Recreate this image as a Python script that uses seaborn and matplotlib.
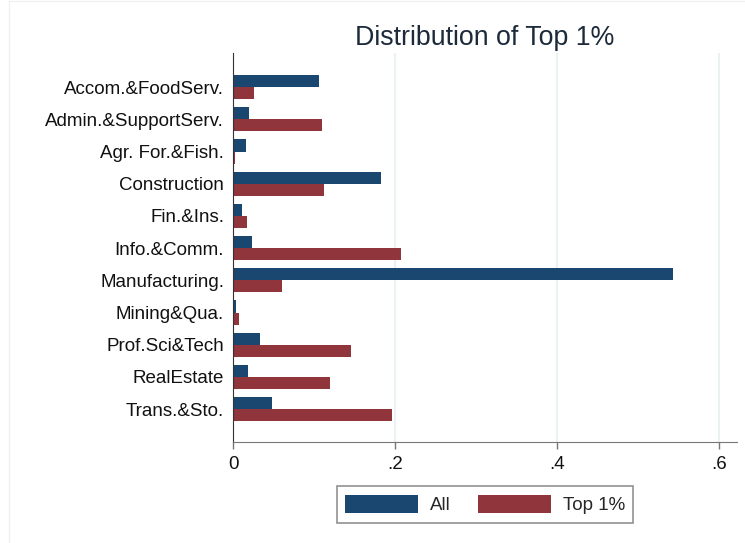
import pandas as pd
import seaborn as sns
import matplotlib.pyplot as plt

# data
industries = ["Accom.&FoodServ.", "Admin.&SupportServ.", "Agr. For.&Fish.",
              "Construction", "Fin.&Ins.", "Info.&Comm.", "Manufacturing.",
              "Mining&Qua.", "Prof.Sci&Tech", "RealEstate", "Trans.&Sto."]
share_all = [0.106, 0.020, 0.016, 0.182, 0.0115, 0.024, 0.543,
             0.004, 0.033, 0.018, 0.0485]
share_top1 = [0.026, 0.110, 0.003, 0.112, 0.017, 0.207, 0.060,
              0.007, 0.146, 0.120, 0.196]
groups = ["All", "Top 1%"]
xticks = [0, 0.2, 0.4, 0.6]
xtick_labels = ["0", ".2", ".4", ".6"]

df = pd.DataFrame({
    "industry": industries * 2,
    "share": share_all + share_top1,
    "group": [groups[0]] * len(industries) + [groups[1]] * len(industries),
})

sns.set_style("white")
plt.rcParams["font.family"] = ["Liberation Sans", "DejaVu Sans"]

fig = plt.figure(figsize=(7.45, 5.43), dpi=100)
ax = fig.add_axes([0.3128, 0.186, 0.6765, 0.7164])

sns.barplot(data=df, y="industry", x="share", hue="group", hue_order=groups,
            order=industries, palette=["#1a476f", "#90353b"], width=0.75,
            gap=0, linewidth=0, saturation=1, ax=ax, legend=True)

ax.set_xlim(0, 0.622)
ax.set_ylim(len(industries) - 1 + 1.02, -1.06)
ax.set_xticks(xticks)
ax.set_xticklabels(xtick_labels)
for x in xticks[1:]:
    ax.axvline(x, color="#eaf2f3", lw=1.5, zorder=0)

ax.set_xlabel("")
ax.set_ylabel("")
ax.set_title("Distribution of Top 1%", fontsize=19.3, color="#1c2a3a", pad=6)

for side in ["top", "right"]:
    ax.spines[side].set_visible(False)
ax.spines["left"].set_color("#333333")
ax.spines["bottom"].set_color("#777777")
ax.tick_params(axis="y", length=0, pad=6.5, labelsize=13.5, labelcolor="#111111")
ax.tick_params(axis="x", length=5, width=1, color="#777777", pad=5,
               labelsize=13.5, labelcolor="#111111", bottom=True)

leg = ax.legend(loc="upper center", bbox_to_anchor=(0.5, -0.09), ncol=2,
                frameon=True, fancybox=False, fontsize=13.5, handlelength=3.9,
                handleheight=1.1, handletextpad=0.6, columnspacing=1.5,
                borderpad=0.45)
leg.get_frame().set_edgecolor("#777777")
leg.get_frame().set_linewidth(1.2)

# faint outer graph-region border
fig.add_artist(plt.Line2D([0.012, 0.012], [0, 0.998], color="#f0f0f0", lw=1))
fig.add_artist(plt.Line2D([0.012, 1], [0.998, 0.998], color="#f0f0f0", lw=1))

fig.savefig("out.png", dpi=100, facecolor="white")
